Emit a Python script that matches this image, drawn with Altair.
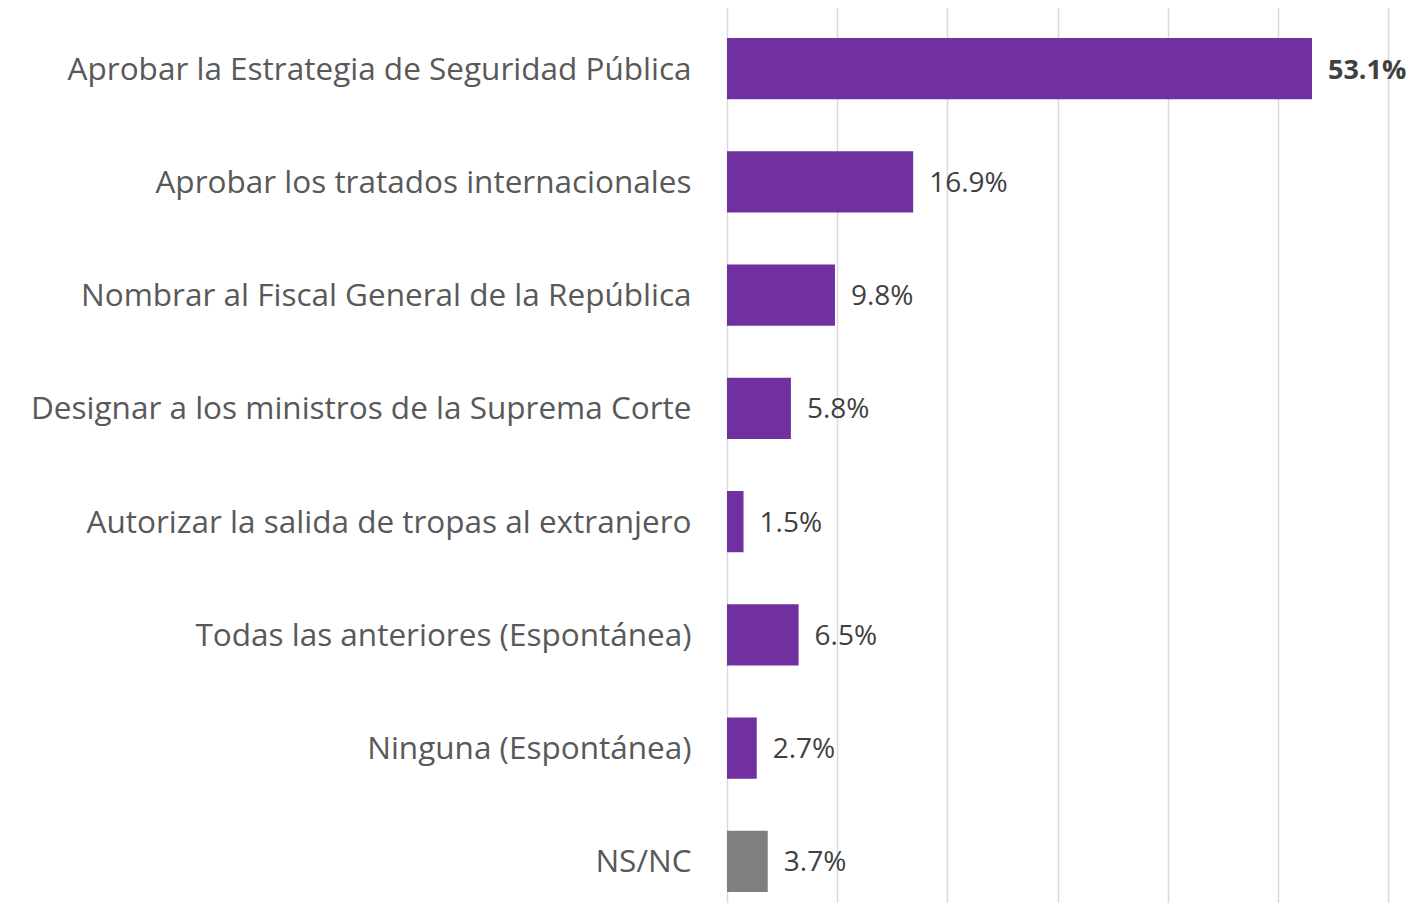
import altair as alt
import pandas as pd

categories = [
    "Aprobar la Estrategia de Seguridad Pública",
    "Aprobar los tratados internacionales",
    "Nombrar al Fiscal General de la República",
    "Designar a los ministros de la Suprema Corte",
    "Autorizar la salida de tropas al extranjero",
    "Todas las anteriores (Espontánea)",
    "Ninguna (Espontánea)",
    "NS/NC",
]
values = [53.1, 16.9, 9.8, 5.8, 1.5, 6.5, 2.7, 3.7]
groups = ["op", "op", "op", "op", "op", "op", "op", "ns"]
bold_flags = [True, False, False, False, False, False, False, False]

df = pd.DataFrame({
    "categoria": categories,
    "valor": values,
    "grupo": groups,
    "bold": bold_flags,
})
df["etiqueta"] = df["valor"].map(lambda v: f"{v:.1f}%")

FONT = "Open Sans"

y_enc = alt.Y(
    "categoria:N",
    sort=categories,
    title=None,
    scale=alt.Scale(range=[0, 906], paddingInner=0.46, paddingOuter=0.23),
    axis=alt.Axis(
        labelFont=FONT,
        labelFontSize=31.5,
        labelColor="#595959",
        labelPadding=36,
        labelLimit=1000,
        labelOffset=2,
        ticks=False,
        domain=False,
        grid=False,
    ),
)
x_enc = alt.X(
    "valor:Q",
    title=None,
    scale=alt.Scale(domain=[0, 60], nice=False),
    axis=alt.Axis(
        values=[0, 10, 20, 30, 40, 50, 60],
        labels=False,
        ticks=False,
        domain=False,
        grid=True,
        gridColor="#D9D9D9",
        gridWidth=1.5,
    ),
)

base = alt.Chart(df)

bars = base.mark_bar().encode(
    y=y_enc,
    x=x_enc,
    color=alt.Color(
        "grupo:N",
        scale=alt.Scale(domain=["op", "ns"], range=["#7030A0", "#7F7F7F"]),
        legend=None,
    ),
)

txt_normal = base.transform_filter("!datum.bold").mark_text(
    align="left", baseline="middle", dx=16, dy=2, font=FONT, fontSize=28, color="#404040"
).encode(
    y=alt.Y("categoria:N", sort=categories),
    x=alt.X("valor:Q"),
    text="etiqueta:N",
)

txt_bold = base.transform_filter("datum.bold").mark_text(
    align="left", baseline="middle", dx=16, dy=2, font=FONT, fontSize=27,
    fontWeight="bold", color="#404040"
).encode(
    y=alt.Y("categoria:N", sort=categories),
    x=alt.X("valor:Q"),
    text="etiqueta:N",
)

chart = alt.layer(bars, txt_normal, txt_bold).properties(
    width=661,
    height=891,
    autosize=alt.AutoSizeParams(type="none"),
    padding={"left": 719, "top": 4, "right": 18, "bottom": 0},
).configure_view(stroke=None)

chart.save("out.html", embed_options={"renderer": "svg", "actions": False})
